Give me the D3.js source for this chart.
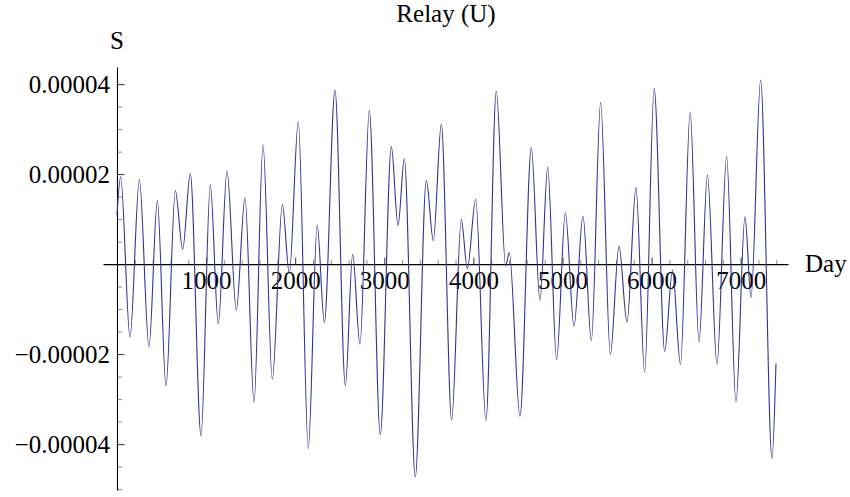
<!DOCTYPE html>
<html>
<head>
<meta charset="utf-8">
<script src="https://cdn.jsdelivr.net/npm/d3@7"></script>
<style>
  html, body { margin: 0; padding: 0; background: #fff; }
  svg text { font-family: "Liberation Serif", "Times New Roman", Times, serif; fill: #000; }
</style>
</head>
<body>
<svg id="chart" width="850" height="497"></svg>
<script>
// Turning points of the relay signal S (day, value)
const days = [0, 41, 146, 251, 359, 453, 550, 655, 737, 823,
  943, 1047, 1137, 1235, 1339, 1437, 1538, 1639, 1743, 1856,
  1934, 2035, 2147, 2247, 2327, 2447, 2563, 2645, 2727, 2832,
  2955, 3079, 3154, 3225, 3348, 3472, 3550, 3640, 3756, 3864,
  3932, 4026, 4141, 4257, 4362, 4403, 4523, 4650, 4747, 4834,
  4934, 5032, 5129, 5230, 5324, 5428, 5537, 5634, 5724, 5825,
  5922, 6029, 6147, 6235, 6324, 6433, 6532, 6627, 6734, 6842,
  6947, 7048, 7116, 7224, 7351, 7396];
const values = [1.09e-5, 1.94e-5, -1.62e-5, 1.88e-5, -1.84e-5, 1.41e-5, -2.71e-5, 1.63e-5, 0.33e-5, 2.01e-5,
  -3.82e-5, 1.76e-5, -1.33e-5, 2.07e-5, -1.02e-5, 1.48e-5, -3.07e-5, 2.65e-5, -2.56e-5, 1.33e-5,
  -0.21e-5, 3.17e-5, -4.10e-5, 0.87e-5, -1.30e-5, 3.87e-5, -2.70e-5, 0.22e-5, -1.78e-5, 3.41e-5,
  -3.79e-5, 2.61e-5, 0.86e-5, 2.34e-5, -4.73e-5, 1.87e-5, 0.52e-5, 3.11e-5, -3.47e-5, 0.99e-5,
  -0.10e-5, 1.44e-5, -3.48e-5, 3.84e-5, -0.04e-5, 0.25e-5, -3.38e-5, 2.59e-5, -0.81e-5, 2.15e-5,
  -2.12e-5, 1.14e-5, -1.38e-5, 1.07e-5, -1.70e-5, 3.59e-5, -2.01e-5, 0.40e-5, -1.29e-5, 1.70e-5,
  -2.40e-5, 3.90e-5, -1.94e-5, -0.13e-5, -2.23e-5, 3.38e-5, -1.73e-5, 1.98e-5, -2.23e-5, 2.39e-5,
  -3.07e-5, 1.05e-5, -0.74e-5, 4.09e-5, -4.32e-5, -2.21e-5];

// Axis ticks and labels
const xMajorTicks = [1000, 2000, 3000, 4000, 5000, 6000, 7000];
const xMajorLabels = ["1000", "2000", "3000", "4000", "5000", "6000", "7000"];
const xMinorTicks = [200, 400, 600, 800, 1200, 1400, 1600, 1800, 2200, 2400, 2600, 2800,
  3200, 3400, 3600, 3800, 4200, 4400, 4600, 4800, 5200, 5400, 5600, 5800,
  6200, 6400, 6600, 6800, 7200, 7400];
const yMajorTicks = [-4e-5, -2e-5, 2e-5, 4e-5];
const yMajorLabels = ["\u22120.00004", "\u22120.00002", "0.00002", "0.00004"];
const yMinorTicks = [-5e-5, -4.5e-5, -3.5e-5, -3e-5, -2.5e-5, -1.5e-5, -1e-5, -0.5e-5,
  0.5e-5, 1e-5, 1.5e-5, 2.5e-5, 3e-5, 3.5e-5];

const titleText = "Relay (U)";
const xName = "Day";
const yName = "S";

const svg = d3.select("#chart");
const fontSize = 25;
const serif = "'Liberation Serif', 'Times New Roman', serif";

const x = d3.scaleLinear().domain([-157, 7531]).range([103, 788]);
const y = d3.scaleLinear().domain([-5.02e-5, 4.38e-5]).range([490, 67]);

const x0 = x(0), y0 = y(0);

// x axis: minor ticks, then major ticks with labels
svg.append("g")
  .attr("transform", `translate(0,${y0})`)
  .call(d3.axisBottom(x).tickValues(xMinorTicks).tickSize(-4).tickSizeOuter(0).tickFormat(""))
  .call(g => g.select(".domain").remove())
  .call(g => g.selectAll(".tick line").attr("stroke", "#8a8a8a"));

svg.append("g")
  .attr("transform", `translate(0,${y0})`)
  .call(d3.axisBottom(x).tickValues(xMajorTicks).tickSize(-6.5).tickSizeOuter(0)
    .tickPadding(7).tickFormat((d, i) => xMajorLabels[i]))
  .call(g => g.select(".domain").attr("stroke", "#000").attr("stroke-width", 1.1))
  .call(g => g.selectAll(".tick line").attr("stroke", "#333"))
  .call(g => g.selectAll(".tick text").attr("font-size", fontSize)
    .attr("font-family", serif).attr("fill", "#000"));

// y axis: minor ticks, then major ticks with labels
svg.append("g")
  .attr("transform", `translate(${x0},0)`)
  .call(d3.axisLeft(y).tickValues(yMinorTicks).tickSize(-5).tickSizeOuter(0).tickFormat(""))
  .call(g => g.select(".domain").remove())
  .call(g => g.selectAll(".tick line").attr("stroke", "#8a8a8a"));

svg.append("g")
  .attr("transform", `translate(${x0},0)`)
  .call(d3.axisLeft(y).tickValues(yMajorTicks).tickSize(-7.5).tickSizeOuter(0)
    .tickPadding(7).tickFormat((d, i) => yMajorLabels[i]))
  .call(g => g.select(".domain").attr("stroke", "#000").attr("stroke-width", 1.1))
  .call(g => g.selectAll(".tick line").attr("stroke", "#333"))
  .call(g => g.selectAll(".tick text").attr("font-size", fontSize)
    .attr("font-family", serif).attr("fill", "#000"));

// signal curve
const pts = days.map((d, i) => [d, values[i]]);
const line = d3.line()
  .x(d => x(d[0]))
  .y(d => y(d[1]))
  .curve(d3.curveMonotoneX);

svg.append("path")
  .datum(pts)
  .attr("d", line)
  .attr("fill", "none")
  .attr("stroke", "#33338f")
  .attr("stroke-width", 1.1)
  .attr("stroke-linejoin", "round");

// titles
svg.append("text")
  .attr("x", 446).attr("y", 22)
  .attr("text-anchor", "middle")
  .attr("font-size", fontSize)
  .text(titleText);

svg.append("text")
  .attr("x", x0).attr("y", 49)
  .attr("text-anchor", "middle")
  .attr("font-size", fontSize)
  .text(yName);

svg.append("text")
  .attr("x", 805).attr("y", 272)
  .attr("font-size", fontSize)
  .text(xName);
</script>
</body>
</html>
